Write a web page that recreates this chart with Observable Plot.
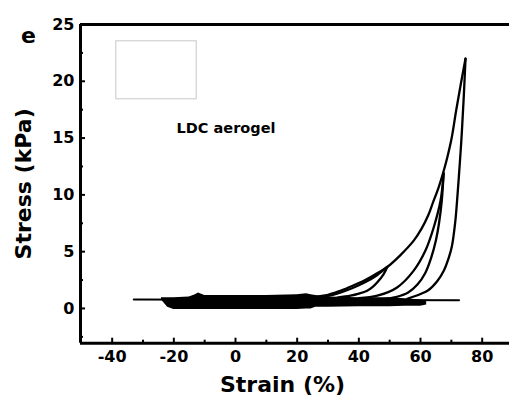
<!DOCTYPE html>
<html><head><meta charset="utf-8">
<script src="https://cdn.jsdelivr.net/npm/d3@7"></script>
<script src="https://cdn.jsdelivr.net/npm/@observablehq/plot@0.6"></script>
<style>html,body{margin:0;padding:0;background:#fff;}</style>
</head><body><div id="chart"></div>
<script>
// ---- tick labels ----
const xTicks = [-40, -20, 0, 20, 40, 60, 80];
const xMinor = [-30, -10, 10, 30, 50, 70];
const yTicks = [0, 5, 10, 15, 20, 25];
const yMinor = [-2.5, 2.5, 7.5, 12.5, 17.5, 22.5];

// ---- loading envelope (strain %, stress kPa) ----
const envStrain = [25, 30, 34, 38, 41.6, 45, 49.2, 53.5, 57.8, 60.3, 62.5, 64, 65.8, 67.3, 68.6, 70.1, 71.6, 73.1, 74.6];
const envStress = [1.0, 1.2, 1.56, 2.0, 2.44, 2.95, 3.65, 4.7, 5.97, 7.0, 8.2, 9.3, 10.6, 11.9, 13.2, 15.0, 17.5, 19.8, 22.0];

// ---- repeated loading (slightly below envelope) ----
const reloadStrain = [26, 30, 34, 38, 42, 46, 49.2];
const reloadStress = [0.95, 1.1, 1.4, 1.8, 2.3, 2.95, 3.65];

// ---- cycle to 50 % : unloading ----
const unloadAStrain = [49.2, 48, 46, 44.5, 42.7, 40, 37.3, 33];
const unloadAStress = [3.65, 3.0, 2.3, 1.9, 1.56, 1.3, 1.12, 0.95];

// ---- cycle to 68 % : two return branches ----
const innerBStrain = [67.5, 66.5, 64.3, 61.6, 57.8, 52.4, 46, 40];
const innerBStress = [11.9, 9.5, 7.15, 5.1, 3.33, 1.85, 1.12, 0.9];
const unloadBStrain = [67.5, 66.9, 66.0, 65.0, 63.5, 61.5, 59, 56, 52, 47];
const unloadBStress = [11.9, 9.5, 7.5, 6.0, 4.5, 3.1, 2.1, 1.4, 1.0, 0.8];

// ---- cycle to 75 % : unloading ----
const unloadCStrain = [74.6, 74.0, 73.4, 72.8, 72.0, 71.3, 70.2, 69.2, 67.5, 65.4, 62.5, 60, 55.7];
const unloadCStress = [22.0, 18.5, 15.5, 13.0, 10.0, 7.7, 5.5, 4.5, 3.3, 2.4, 1.6, 1.27, 0.85];

// ---- dense low-stress band ----
const bandStrain = [-24, -22, -20, -15, -13, -12, -10, 0, 10, 20, 23, 24.5, 26, 30, 40, 50, 55, 60, 62];
const bandLow    = [0.75, 0.1, -0.1, -0.1, -0.1, -0.1, -0.1, -0.1, -0.1, -0.1, -0.05, -0.05, 0.1, 0.1, 0.15, 0.15, 0.2, 0.2, 0.3];
const bandHigh   = [0.95, 0.95, 0.95, 1.0, 1.2, 1.35, 1.15, 1.15, 1.15, 1.2, 1.3, 1.2, 1.15, 1.0, 0.95, 0.95, 0.85, 0.75, 0.6];

// ---- thin baseline trace ----
const baseStrain = [-33, 72.5];
const baseStress = [0.78, 0.72];

const W = 509, H = 403;
const mL = 80, mT = 24, mB = 60.3, mR = 0;
const xDomain = [-50.27, 88.86];
const yDomain = [-3.06, 25];
const plotH = H - mT - mB, plotW = W - mL - mR;

const pts = (xs, ys) => xs.map((x, i) => ({x, y: ys[i]}));
const curve = (xs, ys) => Plot.line(pts(xs, ys), {x: "x", y: "y", stroke: "#000", strokeWidth: 2.3, curve: "catmull-rom"});
const band = bandStrain.map((x, i) => ({x, lo: bandLow[i], hi: bandHigh[i]}));

const bold = {fontWeight: "bold", fill: "#000"};

const chart = Plot.plot({
  width: W, height: H,
  marginLeft: mL, marginTop: mT, marginBottom: mB, marginRight: mR,
  style: {fontFamily: "DejaVu Sans", background: "white"},
  x: {domain: xDomain, axis: null},
  y: {domain: yDomain, axis: null},
  marks: [
    Plot.frame({stroke: "#c8c8c8", strokeWidth: 1, insetLeft: 35.3, insetTop: 16.3, insetRight: 313.3, insetBottom: 244.4}),
    Plot.areaY(band, {x: "x", y1: "lo", y2: "hi", fill: "#000"}),
    Plot.line(pts(baseStrain, baseStress), {x: "x", y: "y", stroke: "#000", strokeWidth: 2}),
    curve(envStrain, envStress),
    curve(reloadStrain, reloadStress),
    curve(unloadAStrain, unloadAStress),
    curve(innerBStrain, innerBStress),
    curve(unloadBStrain, unloadBStress),
    curve(unloadCStrain, unloadCStress),
    // frame (left, bottom, top)
    Plot.ruleX([xDomain[0]], {strokeWidth: 3, stroke: "#000"}),
    Plot.ruleY([yDomain[0], yDomain[1]], {strokeWidth: 3, stroke: "#000"}),
    // inward ticks
    Plot.tickX(xTicks, {x: d => d, insetTop: plotH - 5, strokeWidth: 2, stroke: "#000"}),
    Plot.tickX(xMinor, {x: d => d, insetTop: plotH - 3, strokeWidth: 2, stroke: "#000"}),
    Plot.tickY(yTicks, {y: d => d, insetRight: plotW - 5, strokeWidth: 2, stroke: "#000"}),
    Plot.tickY(yMinor, {y: d => d, insetRight: plotW - 3, strokeWidth: 2, stroke: "#000"}),
    // tick labels
    Plot.text(xTicks, {x: d => d, text: d => String(d), frameAnchor: "bottom", dy: 13.5, textAnchor: "middle", lineAnchor: "middle", fontSize: 16, ...bold}),
    Plot.text(yTicks, {y: d => d, text: d => String(d), frameAnchor: "left", dx: -6, textAnchor: "end", lineAnchor: "middle", fontSize: 16, ...bold}),
    // axis titles
    Plot.text(["Strain (%)"], {text: d => d, frameAnchor: "bottom", dx: -12.5, dy: 42, textAnchor: "middle", lineAnchor: "middle", fontSize: 22, ...bold}),
    Plot.text(["Stress (kPa)"], {text: d => d, frameAnchor: "left", rotate: -90, dx: -57, textAnchor: "middle", lineAnchor: "middle", fontSize: 22, ...bold}),
    // panel letter and annotation
    Plot.text(["e"], {text: d => d, frameAnchor: "top-left", dx: -52, dy: 11, textAnchor: "middle", lineAnchor: "middle", fontSize: 22, ...bold}),
    Plot.text(["LDC aerogel"], {text: d => d, frameAnchor: "top-left", dx: 145.5, dy: 104, textAnchor: "middle", lineAnchor: "middle", fontSize: 14.5, ...bold})
  ]
});
document.getElementById("chart").appendChild(chart);
</script>
</body></html>
